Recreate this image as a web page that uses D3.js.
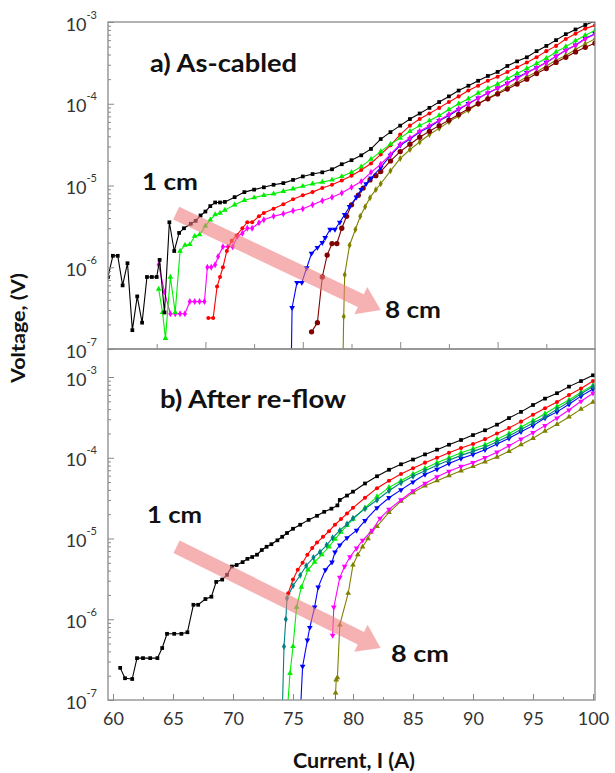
<!DOCTYPE html>
<html lang="en">
<head>
  <meta charset="UTF-8">
  <title>Voltage vs current: as-cabled and after re-flow</title>
  <script src="https://d3js.org/d3.v7.min.js"></script>
  <style>
    body { margin: 0; background: #fff; font-family: Lato, "Open Sans", sans-serif; }
    .frame { fill: none; stroke: #8a8a8a; stroke-width: 1.3px; }
    .tick line { stroke: #8a8a8a; stroke-width: 1px; }
    .series { fill: none; stroke-width: 1.1px; }
    .ticklabel { font-family: Lato, sans-serif; font-size: 18px; fill: #333; }
    .title { font-family: Lato, sans-serif; font-weight: 700; fill: #111; }
  </style>
</head>
<body>
  <svg width="615" height="773"></svg>

  <script>
    // a) As-cabled : [current (A), voltage (V)]
    const topBlack = [[50,7.6e-7],[50.5,1.38e-6],[51,1.38e-6],[51.5,6.0e-7],[52,1.12e-6],[52.5,1.7e-7],[53,4.4e-7],[53.5,2.1e-7],[54,7.6e-7],[54.5,7.6e-7],[55,7.6e-7],[55.3,1.23e-6],[55.8,2.8e-7],[56.3,3.55e-6],[56.8,1.58e-6],[57.3,2.63e-6],[57.8,3.0e-6],[58.5,3.4e-6],[59,3.7e-6],[59.5,4.3e-6],[60,4.8e-6],[60.5,5.6e-6],[61,6.2e-6],[61.5,6.2e-6],[62,6.3e-6],[63,7.2e-6],[64,8.3e-6],[65,8.9e-6],[66,9.5e-6],[67,1.02e-5],[68,1.07e-5],[69,1.17e-5],[70,1.29e-5],[71,1.38e-5],[72,1.45e-5],[73,1.58e-5],[74,1.82e-5],[75,2.04e-5],[76,2.34e-5],[77,2.8e-5],[78,3.7e-5],[79,4.5e-5],[80,5.4e-5],[81,6.5e-5],[82,7.6e-5],[83,8.9e-5],[84,1.05e-4],[85,1.23e-4],[86,1.45e-4],[87,1.66e-4],[88,1.91e-4],[89,2.19e-4],[90,2.45e-4],[91,2.9e-4],[92,3.3e-4],[93,3.7e-4],[94,4.4e-4],[95,5.1e-4],[96,6.0e-4],[97,7.1e-4],[98,8.1e-4],[99,9.2e-4],[100,1.03e-3]];
    const topGreen = [[55.2,5.4e-7],[55.6,2.8e-7],[55.9,1.35e-7],[56.4,7.6e-7],[56.9,2.8e-7],[57.4,1.58e-6],[57.9,1.86e-6],[58.4,1.9e-6],[58.9,2.4e-6],[59.4,2.5e-6],[60,3.2e-6],[60.5,3.8e-6],[61,4.4e-6],[61.5,4.6e-6],[62,5.0e-6],[63,5.8e-6],[64,6.6e-6],[65,7.1e-6],[66,7.6e-6],[67,7.9e-6],[68,8.5e-6],[69,9.1e-6],[70,9.8e-6],[71,1.05e-5],[72,1.10e-5],[73,1.17e-5],[74,1.29e-5],[75,1.45e-5],[76,1.70e-5],[77,2.1e-5],[78,2.6e-5],[79,3.2e-5],[80,3.8e-5],[81,4.6e-5],[82,5.4e-5],[83,6.2e-5],[84,7.2e-5],[85,8.5e-5],[86,1.0e-4],[87,1.15e-4],[88,1.35e-4],[89,1.55e-4],[90,1.74e-4],[91,2.04e-4],[92,2.34e-4],[93,2.7e-4],[94,3.1e-4],[95,3.6e-4],[96,4.3e-4],[97,5.0e-4],[98,5.9e-4],[99,6.9e-4],[100,7.9e-4]];
    const topRed = [[60.3,2.4e-7],[60.8,2.4e-7],[61.2,5.8e-7],[61.5,7.6e-7],[61.8,1.0e-6],[62.2,1.58e-6],[62.7,2.1e-6],[63.2,2.45e-6],[63.8,3.0e-6],[64.3,3.55e-6],[64.8,3.55e-6],[65.5,4.2e-6],[66,4.6e-6],[67,5.2e-6],[68,5.9e-6],[69,6.8e-6],[70,7.6e-6],[71,8.3e-6],[72,9.3e-6],[73,1.02e-5],[74,1.15e-5],[75,1.32e-5],[76,1.55e-5],[77,1.86e-5],[78,2.4e-5],[79,3.1e-5],[80,4.2e-5],[81,5.4e-5],[82,6.5e-5],[83,7.6e-5],[84,8.9e-5],[85,1.05e-4],[86,1.23e-4],[87,1.45e-4],[88,1.66e-4],[89,1.91e-4],[90,2.14e-4],[91,2.45e-4],[92,2.8e-4],[93,3.2e-4],[94,3.7e-4],[95,4.4e-4],[96,5.1e-4],[97,6.2e-4],[98,7.2e-4],[99,8.3e-4],[100,9.1e-4]];
    const topMagenta = [[55.2,1.07e-6],[55.8,5.0e-7],[56.4,2.7e-7],[56.9,2.7e-7],[57.4,2.7e-7],[57.9,2.7e-7],[58.4,3.8e-7],[58.9,3.8e-7],[59.4,3.8e-7],[59.9,3.8e-7],[60.2,1.0e-6],[60.6,1.0e-6],[61,1.07e-6],[61.3,1.35e-6],[61.8,1.78e-6],[62.3,1.78e-6],[62.8,1.78e-6],[63.3,2.4e-6],[63.8,2.6e-6],[64.3,3.0e-6],[64.8,3.0e-6],[65.5,3.5e-6],[66,3.8e-6],[67,4.2e-6],[68,4.5e-6],[69,4.9e-6],[70,5.2e-6],[71,5.8e-6],[72,6.5e-6],[73,7.2e-6],[74,8.1e-6],[75,9.5e-6],[76,1.12e-5],[77,1.45e-5],[78,1.82e-5],[79,2.4e-5],[80,3.2e-5],[81,3.8e-5],[82,4.6e-5],[83,5.4e-5],[84,6.3e-5],[85,7.4e-5],[86,8.7e-5],[87,1.0e-4],[88,1.17e-4],[89,1.35e-4],[90,1.55e-4],[91,1.78e-4],[92,2.04e-4],[93,2.4e-4],[94,2.75e-4],[95,3.2e-4],[96,3.8e-4],[97,4.5e-4],[98,5.2e-4],[99,6.2e-4],[100,7.1e-4]];
    const topBlue = [[68.8,5e-8],[68.9,3.2e-7],[69.4,6.5e-7],[69.9,6.5e-7],[70.4,9.8e-7],[70.9,1.48e-6],[71.5,1.74e-6],[72,2.0e-6],[72.3,2.3e-6],[72.8,2.9e-6],[73.3,2.9e-6],[73.8,3.55e-6],[74.3,4.4e-6],[74.8,5.5e-6],[75.5,7.2e-6],[76,8.9e-6],[76.5,1.05e-5],[77,1.23e-5],[78,1.66e-5],[79,2.34e-5],[80,3.1e-5],[81,3.7e-5],[82,4.5e-5],[83,5.2e-5],[84,6.2e-5],[85,7.2e-5],[86,8.5e-5],[87,1.0e-4],[88,1.17e-4],[89,1.35e-4],[90,1.55e-4],[91,1.78e-4],[92,2.1e-4],[93,2.4e-4],[94,2.75e-4],[95,3.2e-4],[96,3.8e-4],[97,4.5e-4],[98,5.2e-4],[99,6.3e-4],[100,7.2e-4]];
    const topMaroon = [[70.9,1.62e-7],[71.5,2.1e-7],[72,7.6e-7],[72.5,1.41e-6],[73,1.95e-6],[73.5,1.95e-6],[74,3.0e-6],[74.5,4.2e-6],[75,5.8e-6],[75.7,7.6e-6],[76.2,9.3e-6],[76.9,1.17e-5],[77.5,1.32e-5],[78,1.48e-5],[79,2.0e-5],[80,2.6e-5],[81,3.2e-5],[82,3.9e-5],[83,4.6e-5],[84,5.4e-5],[85,6.3e-5],[86,7.4e-5],[87,8.7e-5],[88,1.0e-4],[89,1.15e-4],[90,1.32e-4],[91,1.51e-4],[92,1.74e-4],[93,2.0e-4],[94,2.34e-4],[95,2.7e-4],[96,3.2e-4],[97,3.7e-4],[98,4.3e-4],[99,4.9e-4],[100,5.5e-4]];
    const topOlive = [[74.1,5e-8],[74.2,2.5e-7],[74.3,8.1e-7],[74.8,1.86e-6],[75.4,2.9e-6],[75.9,4.2e-6],[76.4,5.5e-6],[76.9,7.1e-6],[77.5,8.9e-6],[78,1.05e-5],[79,1.51e-5],[80,2.14e-5],[81,2.75e-5],[82,3.4e-5],[83,4.2e-5],[84,5.0e-5],[85,6.0e-5],[86,7.1e-5],[87,8.3e-5],[88,1.0e-4],[89,1.17e-4],[90,1.35e-4],[91,1.58e-4],[92,1.82e-4],[93,2.14e-4],[94,2.45e-4],[95,2.9e-4],[96,3.4e-4],[97,3.9e-4],[98,4.6e-4],[99,5.4e-4],[100,6.2e-4]];

    // b) After re-flow : [current (A), voltage (V)]
    const botBlack = [[60.6,2.5e-7],[61.0,1.86e-7],[61.6,1.82e-7],[62.0,3.3e-7],[62.5,3.3e-7],[63.1,3.3e-7],[63.7,3.3e-7],[64.1,4.4e-7],[64.5,6.6e-7],[65.1,6.6e-7],[65.7,6.6e-7],[66.2,6.9e-7],[66.7,1.51e-6],[67.1,1.51e-6],[67.7,1.78e-6],[68.2,1.9e-6],[68.6,2.9e-6],[69.1,3.1e-6],[69.5,3.55e-6],[69.9,4.5e-6],[70.3,4.7e-6],[70.8,5.1e-6],[71.2,5.6e-6],[71.6,5.9e-6],[72,6.3e-6],[72.4,7.2e-6],[72.8,7.9e-6],[73.2,8.5e-6],[73.7,9.5e-6],[74.1,1.05e-5],[74.5,1.17e-5],[75,1.32e-5],[75.6,1.48e-5],[76.3,1.70e-5],[77,1.91e-5],[77.6,2.14e-5],[78.2,2.34e-5],[78.7,2.57e-5],[78.9,3.0e-5],[79.5,3.4e-5],[80,3.8e-5],[81,4.8e-5],[82,5.9e-5],[83,7.1e-5],[84,8.3e-5],[85,9.5e-5],[86,1.10e-4],[87,1.26e-4],[88,1.45e-4],[89,1.66e-4],[90,1.91e-4],[91,2.19e-4],[92,2.57e-4],[93,3.1e-4],[94,3.7e-4],[95,4.5e-4],[96,5.4e-4],[97,6.3e-4],[98,7.6e-4],[99,8.9e-4],[100,1.05e-3]];
    const botRed = [[74.6,2.1e-6],[75,3.1e-6],[75.4,4.1e-6],[75.8,5.0e-6],[76.2,6.3e-6],[76.6,7.6e-6],[77,8.9e-6],[77.5,1.05e-5],[78,1.23e-5],[78.5,1.48e-5],[79,1.74e-5],[79.5,2.04e-5],[80,2.4e-5],[81,3.2e-5],[82,4.2e-5],[83,5.2e-5],[84,6.3e-5],[85,7.4e-5],[86,8.7e-5],[87,1.0e-4],[88,1.15e-4],[89,1.32e-4],[90,1.48e-4],[91,1.70e-4],[92,2.0e-4],[93,2.34e-4],[94,2.8e-4],[95,3.4e-4],[96,4.1e-4],[97,4.9e-4],[98,6.0e-4],[99,7.2e-4],[100,8.9e-4]];
    const botTeal = [[74.1,6.3e-8],[74.25,4.6e-7],[74.4,1.0e-6],[74.5,1.82e-6],[75,2.6e-6],[75.6,3.5e-6],[76.1,4.6e-6],[76.7,5.8e-6],[77.25,6.8e-6],[77.8,8.3e-6],[78.3,1.02e-5],[78.9,1.26e-5],[79.5,1.51e-5],[80,1.78e-5],[81,2.34e-5],[82,3.0e-5],[83,3.9e-5],[84,4.9e-5],[85,5.9e-5],[86,6.9e-5],[87,8.1e-5],[88,9.3e-5],[89,1.07e-4],[90,1.20e-4],[91,1.35e-4],[92,1.58e-4],[93,1.86e-4],[94,2.24e-4],[95,2.7e-4],[96,3.2e-4],[97,4.0e-4],[98,4.9e-4],[99,6.2e-4],[100,7.6e-4]];
    const botGreen = [[74.5,6.3e-8],[74.75,2.14e-7],[75,4.6e-7],[75.3,1.41e-6],[75.7,2.5e-6],[76.25,4.1e-6],[76.8,5.1e-6],[77.4,6.3e-6],[78,7.9e-6],[78.5,9.8e-6],[79,1.20e-5],[79.5,1.45e-5],[80,1.74e-5],[81,2.4e-5],[82,3.3e-5],[83,4.3e-5],[84,5.2e-5],[85,6.3e-5],[86,7.4e-5],[87,8.7e-5],[88,1.0e-4],[89,1.15e-4],[90,1.29e-4],[91,1.45e-4],[92,1.70e-4],[93,2.0e-4],[94,2.4e-4],[95,2.9e-4],[96,3.5e-4],[97,4.3e-4],[98,5.2e-4],[99,6.5e-4],[100,7.9e-4]];
    const botBlue = [[75.6,6.3e-8],[75.8,2.6e-7],[76.2,5.5e-7],[76.4,7.9e-7],[76.8,1.41e-6],[77.1,2.5e-6],[77.7,4.1e-6],[78.25,5.1e-6],[78.5,6.8e-6],[78.9,8.3e-6],[79.5,1.02e-5],[80.3,1.26e-5],[81,1.66e-5],[82,2.4e-5],[83,3.2e-5],[84,4.0e-5],[85,5.0e-5],[86,6.2e-5],[87,7.2e-5],[88,8.5e-5],[89,9.8e-5],[90,1.10e-4],[91,1.26e-4],[92,1.48e-4],[93,1.74e-4],[94,2.1e-4],[95,2.5e-4],[96,3.1e-4],[97,3.7e-4],[98,4.6e-4],[99,5.8e-4],[100,7.1e-4]];
    const botMagenta = [[78.3,6.3e-7],[78.4,1.41e-6],[78.9,3.3e-6],[79.3,4.5e-6],[79.75,5.9e-6],[80.3,7.6e-6],[80.8,9.5e-6],[81.6,1.26e-5],[82.25,1.78e-5],[83,2.3e-5],[84,3.0e-5],[85,3.9e-5],[86,4.8e-5],[87,5.8e-5],[88,6.8e-5],[89,7.8e-5],[90,8.7e-5],[91,1.0e-4],[92,1.17e-4],[93,1.41e-4],[94,1.70e-4],[95,2.04e-4],[96,2.5e-4],[97,3.1e-4],[98,3.9e-4],[99,5.0e-4],[100,6.3e-4]];
    const botOlive = [[78.5,6.3e-8],[78.55,1.23e-7],[78.6,1.78e-7],[78.7,1.9e-7],[78.9,8.5e-7],[79.6,2.1e-6],[80,4.7e-6],[80.4,6.3e-6],[80.8,7.9e-6],[81.25,1.0e-5],[81.5,1.2e-5],[82,1.41e-5],[83,2.1e-5],[84,2.9e-5],[85,3.7e-5],[86,4.5e-5],[87,5.2e-5],[88,6.0e-5],[89,6.9e-5],[90,7.8e-5],[91,8.9e-5],[92,1.02e-4],[93,1.2e-4],[94,1.45e-4],[95,1.74e-4],[96,2.14e-4],[97,2.6e-4],[98,3.2e-4],[99,4.0e-4],[100,4.9e-4]];

    // "1 cm" -> "8 cm" arrows, [current, voltage] of tail and tip
    const arrowTop = [[57.0, 4.6e-6], [78.0, 3.0e-7]];
    const arrowBot = [[65.3, 7.9e-6], [82.3, 4.4e-7]];

    const yMajor = [1e-7, 1e-6, 1e-5, 1e-4, 1e-3];
    const yExp = ["-7", "-6", "-5", "-4", "-3"];
    const xLabelsBot = [60, 65, 70, 75, 80, 85, 90, 95, 100];

    const topSeries = [
      {data: topOlive,   color: "#808000", sym: d3.symbolDiamond,  size: 14},
      {data: topMaroon,  color: "#800000", sym: d3.symbolCircle,   size: 22},
      {data: topBlue,    color: "#0000ff", sym: d3.symbolTriangle, size: 14, rot: 180},
      {data: topMagenta, color: "#ff00ff", sym: d3.symbolDiamond,  size: 14},
      {data: topRed,     color: "#ff0000", sym: d3.symbolCircle,   size: 13},
      {data: topGreen,   color: "#00ee00", sym: d3.symbolTriangle, size: 14},
      {data: topBlack,   color: "#000000", sym: d3.symbolSquare,   size: 14}
    ];
    const botSeries = [
      {data: botOlive,   color: "#808000", sym: d3.symbolTriangle, size: 14},
      {data: botMagenta, color: "#ff00ff", sym: d3.symbolTriangle, size: 14, rot: 180},
      {data: botBlue,    color: "#0000ff", sym: d3.symbolTriangle, size: 14, rot: 180},
      {data: botGreen,   color: "#00ee00", sym: d3.symbolTriangle, size: 14},
      {data: botTeal,    color: "#008080", sym: d3.symbolDiamond,  size: 14},
      {data: botRed,     color: "#ff0000", sym: d3.symbolCircle,   size: 13},
      {data: botBlack,   color: "#000000", sym: d3.symbolSquare,   size: 14}
    ];

    const svg = d3.select("svg");
    const plotL = 108, plotR = 595, plotT = 22, plotM = 349, plotB = 700;

    const xTop = d3.scaleLinear().domain([50, 100]).range([plotL, plotR]);
    const yTop = d3.scaleLog().domain([1e-7, 1e-3]).range([plotM, plotT]);
    const xBot = d3.scaleLinear().domain([60, 100]).range([113, 593]);
    const yBot = d3.scaleLog().domain([1e-7, 1e-3]).range([plotB, 377]);

    const defs = svg.append("defs");
    defs.append("clipPath").attr("id", "clipTop").append("rect")
      .attr("x", plotL).attr("y", plotT).attr("width", plotR - plotL).attr("height", plotM - plotT);
    defs.append("clipPath").attr("id", "clipBot").append("rect")
      .attr("x", plotL).attr("y", plotM).attr("width", plotR - plotL).attr("height", plotB - plotM);

    function drawCurves(series, x, y, clip) {
      const g = svg.append("g").attr("clip-path", `url(#${clip})`);
      const line = d3.line().x(d => x(d[0])).y(d => y(d[1]));
      series.forEach(s => {
        g.append("path").datum(s.data)
          .attr("class", "series")
          .attr("stroke", s.color)
          .attr("d", line);
        g.append("g").selectAll("path").data(s.data).join("path")
          .attr("transform", d => `translate(${x(d[0])},${y(d[1])}) rotate(${s.rot || 0})`)
          .attr("d", d3.symbol().type(s.sym).size(s.size))
          .attr("fill", s.color);
      });
    }

    function drawArrow(a, x, y) {
      const x0 = x(a[0][0]), y0 = y(a[0][1]), x1 = x(a[1][0]), y1 = y(a[1][1]);
      const len = Math.hypot(x1 - x0, y1 - y0);
      const ux = (x1 - x0) / len, uy = (y1 - y0) / len, nx = -uy, ny = ux;
      const hw = 7, hh = 15, hl = 22;
      const bx = x1 - ux * hl, by = y1 - uy * hl;
      const pts = [
        [x0 + nx * hw, y0 + ny * hw], [bx + nx * hw, by + ny * hw], [bx + nx * hh, by + ny * hh],
        [x1, y1],
        [bx - nx * hh, by - ny * hh], [bx - nx * hw, by - ny * hw], [x0 - nx * hw, y0 - ny * hw]
      ];
      svg.append("polygon")
        .attr("points", pts.map(p => p.join(",")).join(" "))
        .attr("fill", "#f07f7f")
        .attr("fill-opacity", 0.6);
    }

    function yAxis(y) {
      const minors = y.ticks().filter(v => !yMajor.some(m => Math.abs(v / m - 1) < 1e-6));
      svg.append("g").attr("transform", `translate(${plotL},0)`)
        .call(d3.axisLeft(y).tickValues(minors).tickSize(-3).tickFormat(""))
        .call(g => g.select(".domain").remove());
      const ax = svg.append("g").attr("transform", `translate(${plotL},0)`)
        .call(d3.axisLeft(y).tickValues(yMajor).tickSize(-6).tickPadding(11).tickFormat(() => "10"))
        .call(g => g.select(".domain").remove());
      ax.selectAll(".tick text")
        .attr("class", "ticklabel")
        .attr("font-size", null).attr("font-family", null)
        .attr("dy", "8px")
        .append("tspan")
        .attr("dy", -12)
        .attr("font-size", 11)
        .text((d, i) => yExp[i]);
    }

    drawCurves(topSeries, xTop, yTop, "clipTop");
    drawCurves(botSeries, xBot, yBot, "clipBot");
    drawArrow(arrowTop, xTop, yTop);
    drawArrow(arrowBot, xBot, yBot);

    // frames
    svg.append("rect").attr("class", "frame")
      .attr("x", plotL).attr("y", plotT).attr("width", plotR - plotL).attr("height", plotM - plotT);
    svg.append("rect").attr("class", "frame")
      .attr("x", plotL).attr("y", plotM).attr("width", plotR - plotL).attr("height", plotB - plotM);

    yAxis(yTop);
    yAxis(yBot);

    // top panel x ticks (no labels)
    svg.append("g").attr("transform", `translate(0,${plotM})`)
      .call(d3.axisBottom(xTop).tickValues([55, 65, 75, 85, 95]).tickSize(-5).tickFormat(""))
      .call(g => g.select(".domain").remove());
    svg.append("g").attr("transform", `translate(0,${plotM})`)
      .call(d3.axisBottom(xTop).tickValues([60, 70, 80, 90]).tickSize(-7).tickFormat(""))
      .call(g => g.select(".domain").remove());

    // bottom panel x axis
    svg.append("g").attr("transform", `translate(0,${plotB})`)
      .call(d3.axisBottom(xBot).tickValues(d3.range(62.5, 100, 5)).tickSize(-3).tickFormat(""))
      .call(g => g.select(".domain").remove());
    svg.append("g").attr("transform", `translate(0,${plotB})`)
      .call(d3.axisBottom(xBot).tickValues(xLabelsBot).tickSize(-6).tickPadding(12).tickFormat(d3.format("d")))
      .call(g => g.select(".domain").remove())
      .selectAll(".tick text")
      .attr("class", "ticklabel")
      .attr("font-size", null).attr("font-family", null)
      .attr("dy", "0.71em");

    // labels
    const label = (txt, x, y, size, len) => svg.append("text")
      .attr("class", "title").attr("x", x).attr("y", y)
      .attr("font-size", size).attr("textLength", len).attr("lengthAdjust", "spacingAndGlyphs")
      .text(txt);

    label("a) As-cabled", 150, 72, 24, 147);
    label("b) After re-flow", 160, 408, 24, 186);
    label("1 cm", 142, 190, 23, 56);
    label("8 cm", 385, 318, 23, 56);
    label("1 cm", 147, 523, 23, 55);
    label("8 cm", 391, 662, 23, 58);

    svg.append("text")
      .attr("class", "title")
      .attr("transform", "translate(25,328) rotate(-90)")
      .attr("text-anchor", "middle")
      .attr("font-size", 18)
      .attr("textLength", 110).attr("lengthAdjust", "spacingAndGlyphs")
      .text("Voltage, (V)");

    svg.append("text")
      .attr("class", "title")
      .attr("x", 354).attr("y", 768)
      .attr("text-anchor", "middle")
      .attr("font-size", 20)
      .attr("textLength", 122).attr("lengthAdjust", "spacingAndGlyphs")
      .text("Current, I (A)");
  </script>
</body>
</html>
